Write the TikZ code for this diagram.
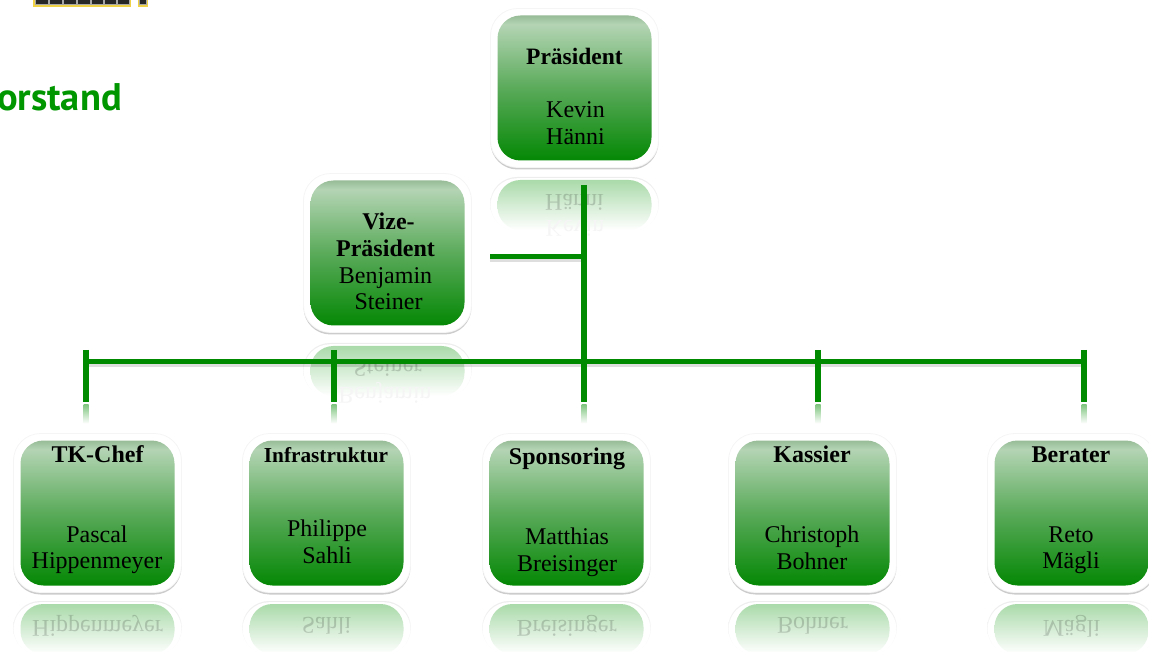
\documentclass[tikz,border=0pt]{standalone}
\usepackage{fontspec}
\setmainfont{Liberation Serif}
\newfontfamily\headfont{PT Sans}
\usetikzlibrary{shadows,fadings}

\definecolor{boxbottom}{RGB}{4,136,4}
\definecolor{boxmiddle}{RGB}{90,170,90}
\definecolor{boxupper}{RGB}{180,212,180}
\definecolor{boxrim}{RGB}{150,188,150}
\definecolor{mirrorgreen}{RGB}{170,218,170}
\definecolor{wiregreen}{RGB}{0,138,0}
\definecolor{headgreen}{RGB}{0,150,0}
\definecolor{logoyellow}{RGB}{240,210,70}

\pgfdeclareverticalshading{glossbox}{100bp}{
    color(0bp)=(boxbottom); color(25bp)=(boxbottom);
    color(50bp)=(boxmiddle);
    color(72bp)=(boxupper);
    color(75bp)=(boxrim);
    color(100bp)=(boxrim)}

\tikzset{
    outerbox/.style={rectangle, rounded corners=27pt, fill=white, draw=black!4, line width=0.8pt, minimum width=168pt, minimum height=159pt, inner sep=0pt,
        drop shadow={shadow xshift=0pt, shadow yshift=-2pt, opacity=0.4}},
    innerbox/.style={rectangle, rounded corners=23pt, shading=glossbox, minimum width=154pt, minimum height=145pt, inner sep=0pt},
    mirrorouter/.style={rectangle, rounded corners=27pt, top color=black!7, bottom color=white, minimum width=169pt, minimum height=54pt, inner sep=0pt},
    mirrormask/.style={rectangle, rounded corners=26.5pt, fill=white, minimum width=167.6pt, minimum height=53pt, inner sep=0pt},
    mirrorinner/.style={rectangle, rounded corners=23pt, top color=mirrorgreen, bottom color=white, minimum width=154pt, minimum height=50pt, inner sep=0pt},
    mirrortext/.style={yscale=-1, transform shape, align=center, font=\fontsize{24}{26}\selectfont, text opacity=0.17},
    mirrorfaint/.style={yscale=-1, transform shape, align=center, font=\fontsize{24}{26}\selectfont, text=black!4},
    titletext/.style={align=center, font=\fontsize{24}{27}\selectfont\bfseries},
    nametext/.style={align=center, font=\fontsize{24}{26.5}\selectfont},
    wire/.style={draw=wiregreen, line width=5.5pt},
    wireshadow/.style={draw=black, opacity=0.13, line width=7pt},
    tickmirror/.style={rectangle, top color=wiregreen!50, bottom color=white, minimum width=5pt, minimum height=19pt, inner sep=0pt},
}

\begin{document}
\begin{tikzpicture}[x=1pt, y=-1pt]
    \useasboundingbox (0,0) rectangle (1149,652);

    % logo, cut off by the page
    \fill[logoyellow] (33,-2) rectangle (131,7);
    \fill[logoyellow] (137.5,-2) rectangle (148,7);
    \foreach \x/\w in {35/13, 49/13, 63/13, 77/13, 91/12, 104/12, 117/12, 139.5/6.5} {
        \fill[black!85, draw=black!35, line width=0.6pt] (\x,-2) rectangle (\x+\w,4.5);
    }
    \node[anchor=east, inner sep=0pt, text=headgreen] (head) at (122,97) {\headfont\fontsize{38.5}{42}\selectfont\bfseries orstand};

    % mirror images below the boxes
    \foreach \n/\x/\y/\last in {
        a/574.5/205/H\"anni,
        b/387.5/371/Steiner,
        c/97.5/629/Hippenmeyer,
        d/326.5/629/Sahli,
        e/566.5/629/Breisinger,
        f/812.5/629/Bohner,
        g/1071.5/629/M\"agli} {
        \node[mirrorouter] (o\n) at (\x,\y-1) {};
        \node[mirrormask] (k\n) at (\x,\y-0.3) {};
        \node[mirrorinner] (i\n) at (\x,\y) {};
        \node[mirrortext] (l\n) at (\x,\y-3) {\last};
    }
    \node[mirrorfaint] (pa) at (575,228) {Kevin};
    \node[mirrorfaint] (pb) at (385,393) {Benjamin};

    % connectors
    \coordinate (top) at (584,185);
    \coordinate (vp) at (490,256.5);
    \coordinate (vq) at (584,256.5);
    \coordinate (left) at (86,361.5);
    \coordinate (right) at (1084,361.5);
    \foreach \n/\x in {1/86, 2/334, 3/584, 4/818, 5/1084} {
        \coordinate (t\n) at (\x,350);
        \coordinate (b\n) at (\x,402);
        \node[tickmirror] (m\n) at (\x,414) {};
    }
    \draw[wireshadow] ([yshift=-2pt]left) -- ([yshift=-2pt]right);
    \draw[wireshadow] ([yshift=-2pt]vp) -- ([yshift=-2pt]vq);
    \draw[wire] (top) -- (b3);
    \draw[wire] (vp) -- (vq);
    \draw[wire] (left) -- (right);
    \foreach \n in {1,2,3,4,5} {
        \draw[wire] (t\n) -- (b\n);
    }

    % boxes
    \foreach \n/\x/\y in {a/574.5/88, b/387.5/253, c/97.5/513, d/326.5/513, e/566.5/513, f/812.5/513, g/1071.5/513} {
        \node[outerbox] (box\n) at (\x,\y) {};
        \node[innerbox] (fill\n) at (\x,\y) {};
    }

    % texts
    \node[titletext, font=\fontsize{23.5}{27}\selectfont\bfseries] (ta) at (574.5,56.5) {Pr\"asident};
    \node[nametext, font=\fontsize{24}{27}\selectfont] (na) at (575.5,123.5) {Kevin\\H\"anni};
    \node[titletext] (tb) at (385.5,235) {\hspace*{6pt}Vize-\\Pr\"asident};
    \node[nametext] (nb) at (385.5,288.5) {Benjamin\\\hspace*{6pt}Steiner};
    \node[titletext] (tc) at (97.5,454) {TK-Chef};
    \node[nametext] (nc) at (97,550) {Pascal\\Hippenmeyer};
    \node[titletext, font=\fontsize{21.3}{24}\selectfont\bfseries] (td) at (326,455) {Infrastruktur};
    \node[nametext, font=\fontsize{24}{27}\selectfont] (nd) at (327,542) {Philippe\\Sahli};
    \node[titletext] (te) at (567,459) {Sponsoring};
    \node[nametext, font=\fontsize{24}{27}\selectfont] (ne) at (567,552.5) {Matthias\\Breisinger};
    \node[titletext] (tf) at (812,454) {Kassier};
    \node[nametext] (nf) at (812,548) {Christoph\\Bohner};
    \node[titletext] (tg) at (1071,455) {Berater};
    \node[nametext] (ng) at (1071,550) {Reto\\M\"agli};
\end{tikzpicture}
\end{document}
